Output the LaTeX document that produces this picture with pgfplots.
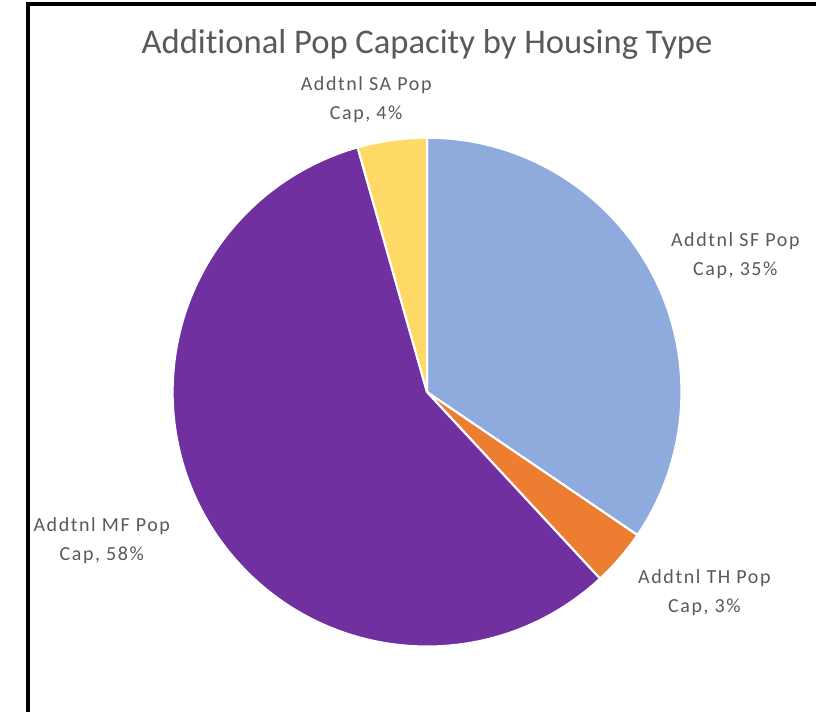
\documentclass[border=0pt]{standalone}
\usepackage{fontspec}
\setmainfont{Carlito}[Ligatures=NoCommon]
\usepackage{pgfplots}
\usepackage{pgfplotstable}
\pgfplotsset{compat=1.18}

\definecolor{sfblue}{HTML}{8FAADC}
\definecolor{thorange}{HTML}{ED7D31}
\definecolor{mfpurple}{HTML}{7030A0}
\definecolor{sayellow}{HTML}{FFD966}
\definecolor{txtgray}{HTML}{595959}

% share of each slice, clockwise from 12 o'clock
\pgfplotstableread{
type share col
SF 34.5 sfblue
TH 3.6 thorange
MF 57.5 mfpurple
SA 4.4 sayellow
}\slices

\begin{document}
\begin{tikzpicture}
\begin{axis}[
    x=0.75pt, y=0.75pt,
    xmin=0, xmax=816, ymin=0, ymax=712,
    hide axis, clip=false,
    scale only axis,
    ]
\path (axis cs:0,0) rectangle (axis cs:816,712);
\pgfplotsextra{
  \gdef\startang{90}
  \foreach \i in {0,1,2,3}{
    \pgfplotstablegetelem{\i}{share}\of\slices \let\share\pgfplotsretval
    \pgfplotstablegetelem{\i}{col}\of\slices \let\col\pgfplotsretval
    \pgfmathsetmacro\endang{\startang-3.6*\share}
    \filldraw[fill=\col, draw=white, line width=1.6pt, line join=round]
      (axis cs:428,319) -- ++(\startang:191.25pt)
      arc[start angle=\startang, end angle=\endang, radius=191.25pt] -- cycle;
    \xdef\startang{\endang}
  }
}
% frame (top and left edges)
\draw[line width=2.8pt, line cap=rect] (axis cs:28,0) -- (axis cs:28,708) -- (axis cs:816,708);
\node[text=txtgray, font=\fontsize{26}{30}\selectfont] at (axis cs:428,667) {Additional Pop Capacity by Housing Type};
\tikzset{lbl/.style={text=txtgray, align=center, font=\addfontfeature{LetterSpace=8}\fontsize{15}{21.75}\selectfont}}
\node[lbl] at (axis cs:367,612) {Addtnl SA Pop\\Cap, 4\%};
\node[lbl] at (axis cs:737,456) {Addtnl SF Pop\\Cap, 35\%};
\node[lbl] at (axis cs:706,118) {Addtnl TH Pop\\Cap, 3\%};
\node[lbl] at (axis cs:102,170) {Addtnl MF Pop\\Cap, 58\%};
\end{axis}
\end{tikzpicture}
\end{document}
